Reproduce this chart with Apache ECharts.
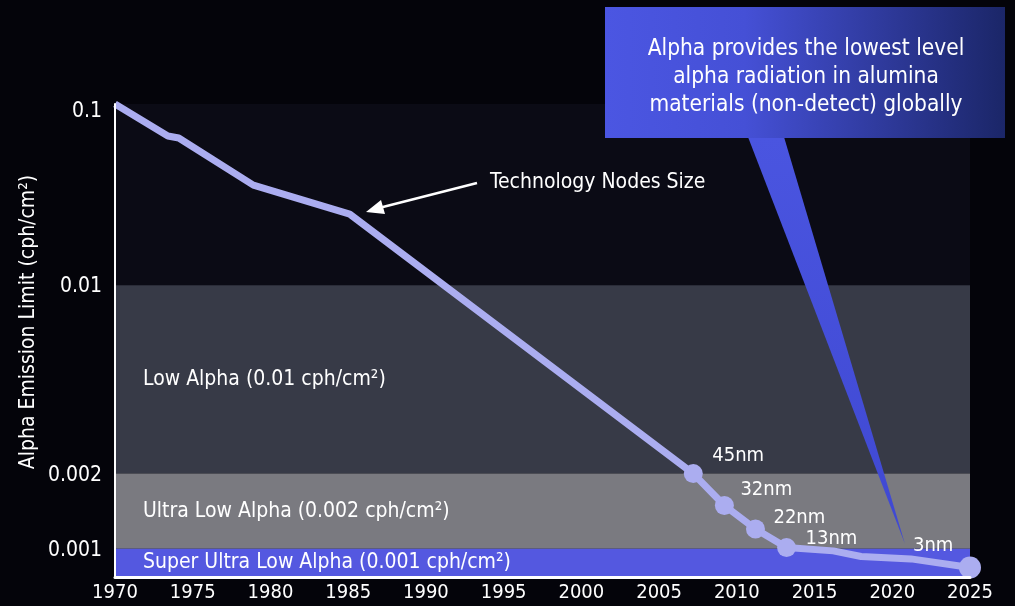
<!DOCTYPE html>
<html>
<head>
<meta charset="utf-8">
<script src="https://cdn.jsdelivr.net/npm/echarts@6/dist/echarts.min.js"></script>
<style>html,body{margin:0;padding:0;background:#04040a;}#c{width:1015px;height:606px;}</style>
</head>
<body>
<div id="c"></div>
<script>
// ---- data ----
const years  = [1970, 1973.4, 1974.1, 1978.9, 1985.1, 2007.2, 2009.2, 2011.2, 2013.2, 2016.2, 2018.0, 2021.2, 2025];
const limits = [0.1, 0.0666, 0.0649, 0.0357, 0.0247, 0.002, 0.00149, 0.0012, 0.00101, 0.00098, 0.00093, 0.00091, 0.00084];
const nodeLabels = ['', '', '', '', '', '45nm', '32nm', '22nm', '13nm', '', '', '', '3nm'];
const yTicks = [0.1, 0.01, 0.002, 0.001];
const yTickLabels = ['0.1', '0.01', '0.002', '0.001'];
const bandNames = ['', 'Low Alpha (0.01 cph/cm\u00b2)', 'Ultra Low Alpha (0.002 cph/cm\u00b2)', 'Super Ultra Low Alpha (0.001 cph/cm\u00b2)'];
const bandTops = [0.1, 0.01, 0.002, 0.001];
const bandBottoms = [0.01, 0.002, 0.001, 0.00077];
const xMin = 1970, xMax = 2025, xStep = 5;
const yAxisTitle = 'Alpha Emission Limit (cph/cm\u00b2)';
const calloutText = 'Alpha provides the lowest level\nalpha radiation in alumina\nmaterials (non-detect) globally';
const arrowText = 'Technology Nodes Size';

// non-uniform emission scale of the original chart (piecewise logarithmic)
function pos(v) {
  const L = Math.log10(v);
  if (L <= -2.69897) return 249 * (L + 3);
  if (L <= -2) return 75 + 269 * (L + 2.69897);
  return 263 + 181 * (L + 2);
}

const FONT = '"DejaVu Sans Condensed", "Noto Sans", sans-serif';
const bandColors = ['#0b0b15', '#373a47', '#7a7a80', '#5458e0'];
const nodeOffsets = {'45nm': [19, -18], '32nm': [16, -16], '22nm': [18, -11], '13nm': [19, -9], '3nm': [-57, -22]};

const seriesData = years.map((y, i) => {
  const lab = nodeLabels[i];
  const d = { value: [y, pos(limits[i])], symbol: lab ? 'circle' : 'none' };
  if (lab) {
    d.label = { show: true, formatter: lab, position: 'inside', align: 'left', verticalAlign: 'middle',
      offset: nodeOffsets[lab], color: '#ffffff', fontSize: 20, fontFamily: FONT };
    if (i === years.length - 1) d.symbolSize = 22;
  }
  return d;
});

const markAreaData = bandTops.map((t, i) => [
  { yAxis: pos(t), name: bandNames[i], itemStyle: { color: bandColors[i] } },
  { yAxis: pos(bandBottoms[i]) }
]);

const chart = echarts.init(document.getElementById('c'));
chart.setOption({
  backgroundColor: '#04040a',
  animation: false,
  grid: { left: 115, right: 45, top: 104, bottom: 29 },
  xAxis: {
    type: 'value', min: xMin, max: xMax, interval: xStep, z: 10,
    axisLine: { show: true, onZero: false, lineStyle: { color: '#ffffff', width: 3 } },
    axisTick: { show: false }, splitLine: { show: false },
    axisLabel: { color: '#ffffff', fontSize: 20, fontFamily: FONT, margin: 6, formatter: v => String(v) }
  },
  yAxis: {
    type: 'value', min: pos(bandBottoms[3]), max: pos(yTicks[0]), z: 10,
    axisLine: { show: true, lineStyle: { color: '#ffffff', width: 2 } },
    axisTick: { show: false }, splitLine: { show: false },
    axisLabel: {
      customValues: yTicks.map(pos),
      formatter: function (v) {
        let best = 0, bd = Infinity;
        yTicks.forEach((t, i) => { const d = Math.abs(pos(t) - v); if (d < bd) { bd = d; best = i; } });
        return best === 0 ? '{top|' + yTickLabels[best] + '}' : '{n|' + yTickLabels[best] + '}';
      },
      rich: {
        top: { color: '#ffffff', fontSize: 21, fontFamily: FONT, padding: [16, 0, 0, 0] },
        n: { color: '#ffffff', fontSize: 21, fontFamily: FONT, padding: [3, 0, 0, 0] }
      },
      color: '#ffffff', fontSize: 21, fontFamily: FONT, margin: 13
    }
  },
  series: [{
    type: 'line',
    data: seriesData,
    symbolSize: 19,
    lineStyle: { color: '#abadf0', width: 7 },
    itemStyle: { color: '#abadf0' },
    z: 3,
    markArea: {
      silent: true,
      label: { show: true, position: 'insideLeft', distance: 28, color: '#ffffff', fontSize: 21, fontFamily: FONT },
      data: markAreaData
    }
  }],
  graphic: [
    { type: 'text', x: 29, y: 322, rotation: Math.PI / 2, z: 20,
      style: { text: yAxisTitle, fill: '#ffffff', font: '21px ' + FONT, align: 'center', verticalAlign: 'middle' } },
    { type: 'polygon', z: 20, shape: { points: [[748, 137], [784, 137], [905, 544]] },
      style: { fill: new echarts.graphic.LinearGradient(0, 0, 0, 1, [{ offset: 0, color: '#4a55e0' }, { offset: 1, color: '#3f48d2' }]) } },
    { type: 'rect', z: 20, shape: { x: 605, y: 7, width: 400, height: 131 },
      style: { fill: new echarts.graphic.LinearGradient(0, 0, 1, 0, [{ offset: 0, color: '#4b56e2' }, { offset: 0.35, color: '#4550d6' }, { offset: 1, color: '#1b2668' }]) } },
    { type: 'text', x: 806, y: 77, z: 21,
      style: { text: calloutText, fill: '#ffffff', font: '22.5px ' + FONT, align: 'center', verticalAlign: 'middle', lineHeight: 28 } },
    { type: 'line', z: 20, shape: { x1: 477, y1: 183, x2: 375, y2: 209 }, style: { stroke: '#ffffff', lineWidth: 2.5 } },
    { type: 'polygon', z: 20, shape: { points: [[366, 212], [381, 200], [385, 214]] }, style: { fill: '#ffffff' } },
    { type: 'text', x: 490, y: 183, z: 20,
      style: { text: arrowText, fill: '#ffffff', font: '21px ' + FONT, align: 'left', verticalAlign: 'middle' } }
  ]
});
</script>
</body>
</html>
